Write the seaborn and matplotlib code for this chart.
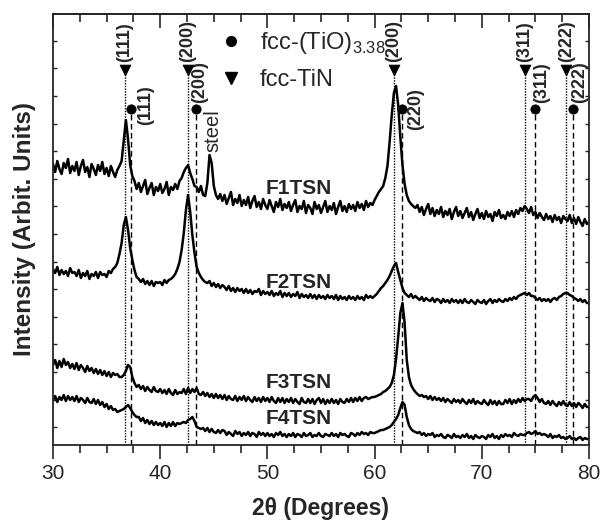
import numpy as np
import pandas as pd
import matplotlib
matplotlib.use('Agg')
import matplotlib.pyplot as plt
import seaborn as sns
from matplotlib.lines import Line2D
from matplotlib.ticker import MultipleLocator

# scan grid: 30 - 80 deg, 0.2 deg step
two_theta = np.round(np.arange(30.0, 80.01, 0.2), 1)

# intensities (arbitrary units, curves already offset as in the figure)
# one row = 2 degrees (10 points), last value at 80.0
f1tsn = [281, 273, 284, 276, 271, 282, 277, 286, 272, 279,
         274, 283, 270, 279, 285, 273, 278, 268, 281, 276,
         270, 280, 274, 283, 271, 277, 269, 279, 273, 268,
         275, 279, 284, 304, 325, 306, 280, 269, 264, 256,
         262, 253, 259, 265, 251, 257, 262, 250, 258, 254,
         261, 252, 256, 263, 250, 258, 255, 261, 256, 264,
         267, 273, 277, 280, 272, 266, 259, 258, 253, 259,
         250, 249, 262, 290, 282, 259, 250, 246, 251, 244,
         250, 241, 247, 253, 240, 246, 242, 250, 239, 245,
         240, 248, 237, 244, 249, 238, 243, 236, 246, 240,
         236, 245, 239, 233, 243, 238, 246, 235, 241, 237,
         243, 234, 240, 245, 233, 239, 236, 244, 232, 240,
         237, 231, 243, 236, 240, 232, 238, 244, 233, 239,
         235, 242, 231, 238, 244, 234, 239, 233, 241, 236,
         240, 234, 243, 237, 241, 235, 244, 238, 242, 240,
         245, 249, 253, 256, 259, 267, 279, 303, 330, 352,
         359, 340, 308, 280, 261, 250, 244, 241, 239, 237,
         240, 233, 238, 230, 236, 241, 231, 237, 229, 235,
         231, 238, 228, 234, 230, 236, 226, 233, 238, 229,
         234, 227, 232, 237, 228, 233, 225, 231, 236, 227,
         232, 226, 234, 228, 231, 224, 233, 229, 235, 227,
         230, 226, 233, 229, 234, 228, 235, 231, 237, 234,
         239, 236, 232, 238, 230, 233, 227, 232, 228, 225,
         231, 226, 229, 223, 230, 225, 228, 222, 229, 226,
         224, 230, 222, 227, 221, 228, 223, 219, 226, 221,
         223]

f2tsn = [176, 172, 178, 170, 175, 171, 174, 169, 177, 172,
         173, 169, 175, 167, 172, 169, 174, 166, 171, 169,
         173, 167, 173, 170, 171, 168, 174, 172, 176, 178,
         182, 191, 202, 220, 228, 215, 197, 185, 175, 168,
         166, 163, 166, 161, 164, 160, 164, 159, 163, 162,
         163, 160, 165, 162, 165, 166, 168, 171, 176, 183,
         195, 212, 235, 250, 233, 210, 192, 178, 172, 168,
         165, 163, 162, 164, 159, 162, 158, 161, 157, 160,
         158, 155, 159, 154, 157, 153, 157, 154, 156, 152,
         156, 152, 155, 151, 154, 153, 156, 150, 154, 151,
         153, 150, 154, 149, 152, 150, 154, 148, 152, 149,
         152, 148, 151, 149, 153, 147, 151, 148, 150, 147,
         151, 147, 150, 146, 150, 147, 149, 146, 150, 147,
         149, 146, 150, 145, 149, 146, 148, 145, 149, 146,
         148, 145, 149, 146, 148, 145, 150, 147, 149, 147,
         149, 151, 154, 157, 159, 162, 165, 169, 174, 179,
         182, 173, 165, 157, 152, 150, 148, 151, 147, 149,
         147, 145, 148, 144, 147, 145, 144, 147, 143, 146,
         145, 142, 146, 143, 145, 142, 146, 143, 145, 142,
         145, 142, 146, 143, 142, 145, 143, 141, 145, 143,
         142, 145, 141, 144, 146, 142, 145, 143, 146, 144,
         143, 146, 144, 147, 145, 148, 146, 149, 150, 151,
         152, 150, 152, 149, 149, 147, 145, 147, 144, 146,
         144, 146, 143, 146, 147, 145, 148, 149, 151, 152,
         152, 150, 149, 147, 146, 144, 146, 143, 145, 142,
         142]

f3tsn = [80, 85, 77, 84, 78, 86, 80, 83, 77, 81,
         76, 82, 75, 80, 77, 73, 79, 74, 77, 72,
         76, 71, 75, 70, 74, 69, 73, 68, 72, 70,
         71, 68, 68, 70, 74, 80, 78, 68, 62, 58,
         60, 56, 59, 54, 58, 55, 53, 58, 54, 53,
         56, 52, 55, 51, 56, 52, 50, 55, 51, 53,
         52, 56, 51, 57, 52, 56, 53, 57, 51, 50,
         53, 49, 52, 48, 51, 47, 51, 47, 50, 46,
         50, 45, 49, 46, 45, 49, 44, 48, 45, 49,
         44, 48, 45, 43, 48, 44, 47, 43, 48, 44,
         47, 43, 48, 44, 42, 47, 43, 47, 42, 46,
         43, 47, 42, 46, 43, 41, 47, 43, 42, 46,
         42, 46, 41, 45, 47, 42, 46, 41, 45, 42,
         46, 42, 45, 41, 46, 43, 42, 46, 43, 47,
         43, 47, 44, 48, 44, 47, 48, 46, 47, 48,
         48, 49, 50, 51, 53, 54, 56, 58, 62, 70,
         86, 108, 132, 142, 122, 85, 68, 60, 56, 53,
         51, 49, 50, 48, 49, 46, 49, 45, 48, 45,
         47, 44, 47, 43, 46, 44, 42, 46, 43, 45,
         42, 46, 43, 41, 45, 42, 46, 41, 44, 42,
         41, 45, 42, 40, 45, 41, 44, 40, 44, 41,
         41, 45, 42, 46, 41, 45, 42, 46, 43, 47,
         44, 46, 46, 44, 48, 50, 47, 43, 46, 42,
         41, 44, 40, 44, 41, 39, 43, 40, 44, 40,
         39, 43, 39, 42, 38, 42, 40, 37, 41, 38,
         38]

f4tsn = [45, 49, 43, 48, 45, 50, 44, 49, 45, 48,
         44, 49, 43, 47, 45, 42, 47, 43, 42, 46,
         41, 45, 40, 43, 38, 41, 36, 39, 35, 36,
         33, 34, 35, 36, 38, 40, 37, 33, 30, 28,
         28, 24, 27, 22, 25, 21, 24, 20, 23, 20,
         22, 19, 23, 18, 22, 19, 23, 19, 22, 21,
         22, 23, 22, 25, 26, 28, 24, 18, 17, 16,
         17, 14, 17, 13, 16, 13, 12, 15, 12, 15,
         14, 10, 13, 11, 9, 14, 11, 13, 9, 12,
         10, 13, 9, 12, 11, 8, 13, 10, 12, 9,
         12, 9, 11, 8, 12, 10, 13, 9, 11, 8,
         11, 9, 12, 8, 11, 10, 8, 12, 9, 10,
         12, 8, 10, 9, 12, 9, 8, 11, 10, 9,
         12, 9, 11, 8, 12, 10, 11, 9, 8, 12,
         11, 9, 12, 10, 13, 11, 12, 10, 13, 12,
         12, 13, 14, 15, 15, 16, 17, 18, 20, 23,
         26, 30, 37, 43, 40, 28, 20, 16, 14, 13,
         12, 13, 10, 12, 9, 11, 10, 12, 8, 10,
         9, 11, 8, 7, 10, 9, 7, 11, 8, 9,
         7, 10, 8, 11, 7, 9, 6, 10, 8, 7,
         9, 8, 6, 10, 8, 11, 7, 9, 6, 10,
         8, 11, 9, 10, 8, 12, 10, 9, 11, 10,
         10, 12, 13, 11, 12, 14, 11, 12, 10, 11,
         10, 8, 11, 7, 9, 8, 10, 7, 8, 6,
         7, 9, 6, 7, 5, 7, 8, 5, 7, 6,
         6]

samples = ['F1TSN', 'F2TSN', 'F3TSN', 'F4TSN']

# reflection positions
tin_peaks = [36.7, 42.55, 61.8, 74.0, 77.9]
tin_labels = ['(111)', '(200)', '(200)', '(311)', '(222)']
tio_peaks = [37.25, 43.3, 62.6, 74.95, 78.55]
tio_labels = ['(111)', '(200)', '(220)', '(311)', '(222)']

df = pd.DataFrame({
    'two_theta': np.tile(two_theta, 4),
    'intensity': f1tsn + f2tsn + f3tsn + f4tsn,
    'sample': np.repeat(samples, len(two_theta)),
})

sns.set_theme(style='ticks')
plt.rcParams['font.family'] = ['Liberation Sans', 'DejaVu Sans']
plt.rcParams['mathtext.fontset'] = 'custom'
plt.rcParams['mathtext.rm'] = 'Liberation Sans'

fig = plt.figure(figsize=(6.02, 5.24), dpi=100)
ax = fig.add_axes([53 / 602, 1 - 445 / 524, 536 / 602, 431 / 524])

sns.lineplot(data=df, x='two_theta', y='intensity', hue='sample',
             palette=['black'] * 4, estimator=None, sort=False,
             legend=False, lw=1.8, ax=ax)

# reflection markers and guide lines
tin_top = 375
tio_top = 336
ax.vlines(tin_peaks, 0, tin_top, colors='black', lw=1.0, linestyles=(0, (1, 1)))
ax.vlines(tio_peaks, 0, tio_top, colors='black', lw=1.0, linestyles=(0, (4, 2.5)))
sns.scatterplot(x=tin_peaks, y=[tin_top] * len(tin_peaks), marker='v', s=60,
                color='black', edgecolor='black', ax=ax, zorder=5)
sns.scatterplot(x=tio_peaks, y=[tio_top] * len(tio_peaks), marker='o', s=45,
                color='black', edgecolor='black', ax=ax, zorder=5)

for xp, lab in zip(tin_peaks, tin_labels):
    ax.text(xp, 383, lab, rotation=90, ha='center', va='bottom',
            fontsize=13, fontweight='bold')

tio_label_pos = [(38.6, 340), (43.72, 363), (63.86, 336), (75.6, 362), (79.15, 363)]
for (xp, yp), lab in zip(tio_label_pos, tio_labels):
    ax.text(xp, yp, lab, rotation=90, ha='center', va='center',
            fontsize=13, fontweight='bold')

ax.text(44.9, 314, 'steel', rotation=90, ha='center', va='center', fontsize=14.5)

for name, yp in zip(samples, [257, 163, 62, 27]):
    ax.text(52.9, yp, name, ha='center', va='center', fontsize=15, fontweight='bold')

handles = [Line2D([], [], ls='none', marker='o', ms=7, color='black',
                  label='fcc-(TiO)$_{\\mathregular{3.38}}$'),
           Line2D([], [], ls='none', marker='v', ms=8, color='black', label='fcc-TiN')]
ax.legend(handles=handles, frameon=False, loc='upper left', bbox_to_anchor=(0.293, 0.985),
          borderaxespad=0, fontsize=17, handlelength=1.0, handletextpad=0.7,
          labelspacing=0.55)

ax.set_xlim(30, 80)
ax.set_ylim(0, 431)
ax.xaxis.set_major_locator(MultipleLocator(10))
ax.xaxis.set_minor_locator(MultipleLocator(2.5))
ax.tick_params(axis='x', which='both', direction='out', top=False, labelsize=15,
               width=1.2, pad=4)
ax.tick_params(axis='x', which='major', length=10)
ax.tick_params(axis='x', which='minor', length=6)
ax.yaxis.set_major_locator(MultipleLocator(27.6, offset=17.9))
ax.tick_params(axis='y', which='both', direction='in', left=True, right=True,
               labelleft=False, length=3, width=1.0)

top = ax.secondary_xaxis('top')
top.xaxis.set_major_locator(MultipleLocator(10))
top.xaxis.set_minor_locator(MultipleLocator(2.5))
top.tick_params(axis='x', which='both', direction='in', labeltop=False, width=1.2)
top.tick_params(axis='x', which='major', length=10)
top.tick_params(axis='x', which='minor', length=6)

for sp in ax.spines.values():
    sp.set_linewidth(1.3)
top.spines['top'].set_linewidth(1.3)

ax.set_xlabel('2θ (Degrees)', fontsize=16.5, fontweight='bold', labelpad=10)
ax.set_ylabel('Intensity (Arbit. Units)', fontsize=17.5, fontweight='bold', labelpad=12)

fig.savefig('out.png', dpi=100)
